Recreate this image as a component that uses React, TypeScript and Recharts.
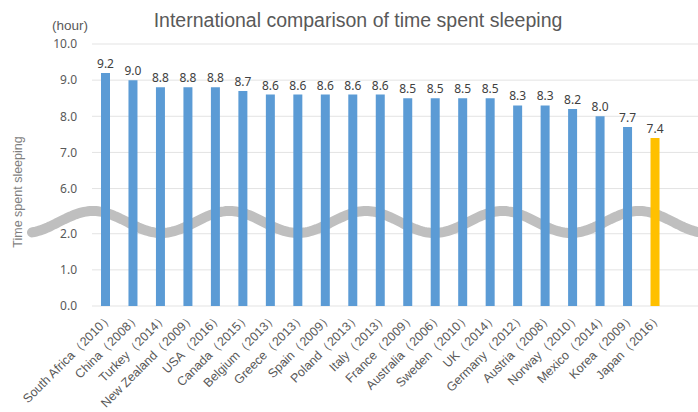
import { Bar, BarChart, CartesianGrid, Cell, Customized, LabelList, XAxis, YAxis } from "recharts";

const countries = [
  "South Africa（2010）", "China（2008）", "Turkey（2014）", "New Zealand（2009）",
  "USA（2016）", "Canada（2015）", "Belgium（2013）", "Greece（2013）",
  "Spain（2009）", "Poland（2013）", "Italy（2013）", "France（2009）",
  "Australia（2006）", "Sweden（2010）", "UK（2014）", "Germany（2012）",
  "Austria（2008）", "Norway（2010）", "Mexico（2014）", "Korea（2009）", "Japan（2016）",
];
const hours = [9.2, 9.0, 8.8, 8.8, 8.8, 8.7, 8.6, 8.6, 8.6, 8.6, 8.6, 8.5, 8.5, 8.5, 8.5, 8.3, 8.3, 8.2, 8.0, 7.7, 7.4];
const tickValues = [0, 1, 2, 6, 7, 8, 9, 10];

// broken axis: 2..6 squeezed into a small gap
const GAP = 1.25;
const toAxis = (v: number) => (v <= 2 ? v : v - 4 + GAP);
const fromAxis = (v: number) => (v <= 2 ? v : v + 4 - GAP);

const data = countries.map((name, i) => ({ name, value: hours[i], shown: toAxis(hours[i]) }));

const grey = "#595959";

const XTick = ({ x, y, payload }: any) => (
  <g transform={`translate(${x + 8},${y + 12})`}>
    <text
      x={0}
      y={0}
      textAnchor="end"
      transform="rotate(-45)"
      fontSize={12.5}
      fontFamily="Liberation Sans, Arial, sans-serif"
      fill={grey}
    >
      {payload.value}
    </text>
  </g>
);

const Decor = () => {
  let d = "";
  for (let x = 32; x <= 698; x += 2) {
    const y = 222 - 11 * Math.cos((2 * Math.PI * (x - 93)) / 136.5);
    d += (x === 32 ? "M" : "L") + x + "," + y.toFixed(1);
  }
  return (
    <g>
      <path d={d} fill="none" stroke="#BFBFBF" strokeWidth={10} strokeLinecap="round" />
    </g>
  );
};

const Texts = () => (
  <g fontFamily="Liberation Sans, Arial, sans-serif">
    <text x={358} y={27} textAnchor="middle" fontSize={19.5} fill={grey}>
      International comparison of time spent sleeping
    </text>
    <text x={70} y={30} textAnchor="middle" fontSize={13.5} fill={grey}>
      (hour)
    </text>
    <text
      x={18}
      y={192}
      textAnchor="middle"
      dominantBaseline="central"
      fontSize={12.5}
      fill="#7F7F7F"
      transform="rotate(-90, 18, 192)"
    >
      Time spent sleeping
    </text>
  </g>
);

export default function App() {
  return (
    <div style={{ position: "absolute", left: 0, top: 0, background: "#fff" }}>
      <BarChart width={698} height={412} data={data} margin={{ top: 44, right: 0, bottom: 0, left: 0 }}>
        <CartesianGrid vertical={false} stroke="#E3E3E3" />
        <XAxis
          dataKey="name"
          interval={0}
          height={106}
          axisLine={false}
          tickLine={false}
          tickSize={0}
          tickMargin={0}
          padding={{ left: 0, right: 29 }}
          tick={<XTick />}
        />
        <YAxis
          type="number"
          domain={[0, toAxis(10)]}
          ticks={tickValues.map(toAxis)}
          tickFormatter={(v: number) => fromAxis(v).toFixed(1)}
          width={92}
          axisLine={false}
          tickLine={false}
          tickSize={0}
          tickMargin={15}
          tick={{ fill: grey, fontSize: 12, fontFamily: "Noto Sans, sans-serif" }}
        />
        <Customized component={Texts} />
        <Bar dataKey="shown" barSize={9} isAnimationActive={false}>
          {data.map((d, i) => (
            <Cell key={i} fill={i === data.length - 1 ? "#FFC000" : "#5B9BD5"} />
          ))}
          <LabelList
            dataKey="value"
            position="top"
            formatter={(v: number) => v.toFixed(1)}
            style={{ fill: "#404040", fontSize: 12, fontFamily: "Noto Sans, sans-serif" }}
          />
        </Bar>
        <Customized component={Decor} />
      </BarChart>
    </div>
  );
}
